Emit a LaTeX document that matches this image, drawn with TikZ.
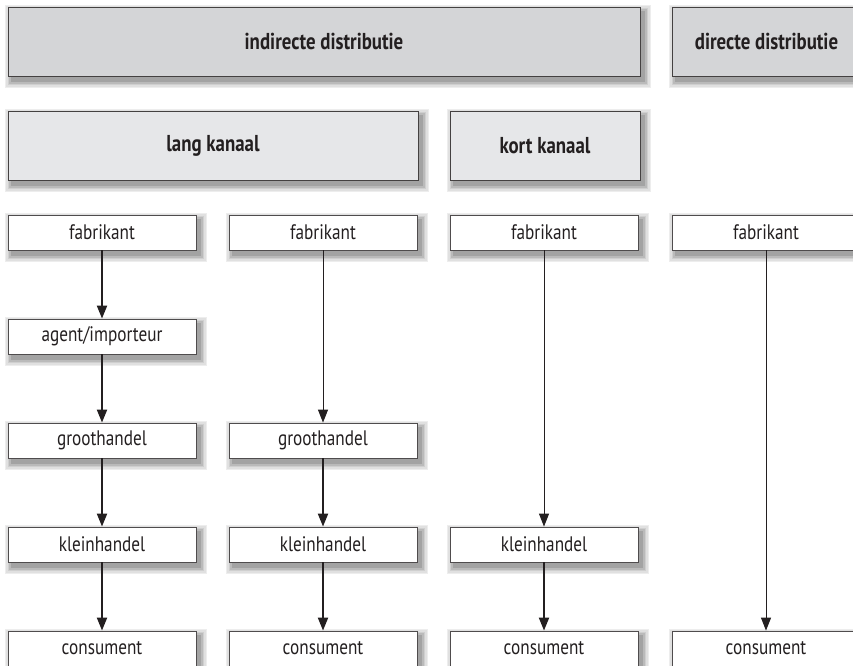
\documentclass[tikz,border=0pt]{standalone}
\usepackage{fontspec}
\setmainfont{PT Sans}[FakeStretch=0.82]
\usetikzlibrary{arrows.meta,backgrounds}
\definecolor{kopgrijs}{HTML}{D4D5D7}
\definecolor{kanaalgrijs}{HTML}{E6E7E9}
\definecolor{lijn}{HTML}{231F20}

\begin{document}
\begin{tikzpicture}[x=1pt, y=1pt,
	kop/.style={draw=lijn!85, line width=0.9pt, minimum height=69pt, inner sep=0pt, text=lijn, font=\fontsize{23}{26}\selectfont\bfseries},
	box/.style={draw=lijn!80, fill=white, line width=0.8pt, minimum width=188pt, minimum height=35pt, inner sep=0pt, text=lijn, font=\fontsize{21}{23}\selectfont},
	dik/.style={draw=lijn, line width=2pt, -{Triangle[width=10pt,length=13pt]}},
	dun/.style={draw=lijn, line width=1pt, -{Triangle[width=10pt,length=13pt]}}]
	\useasboundingbox (0,0) rectangle (853,-665);

	% kopjes
	\node[kop, fill=kopgrijs, minimum width=632pt] (k1) at (324,-41.5) {indirecte distributie};
	\node[kop, fill=kopgrijs, minimum width=189pt] (k2) at (766.5,-41.5) {directe distributie};
	\node[kop, fill=kanaalgrijs, minimum width=410pt] (k3) at (213,-145.5) {lang kanaal};
	\node[kop, fill=kanaalgrijs, minimum width=190pt] (k4) at (545,-145.5) {kort kanaal};

	% kolom 1
	\node[box] (f1) at (102,-232.5) {fabrikant};
	\node[box] (a1) at (102,-336.5) {agent/importeur};
	\node[box] (g1) at (102,-440.5) {groothandel};
	\node[box] (k1b) at (102,-544.5) {kleinhandel};
	\node[box] (c1) at (102,-648.5) {consument};

	% kolom 2
	\node[box] (f2) at (323,-232.5) {fabrikant};
	\node[box] (g2) at (323,-440.5) {groothandel};
	\node[box] (k2b) at (323,-544.5) {kleinhandel};
	\node[box] (c2) at (323,-648.5) {consument};

	% kolom 3
	\node[box] (f3) at (544,-232.5) {fabrikant};
	\node[box] (k3b) at (544,-544.5) {kleinhandel};
	\node[box] (c3) at (544,-648.5) {consument};

	% kolom 4
	\node[box] (f4) at (766,-232.5) {fabrikant};
	\node[box] (c4) at (766,-648.5) {consument};

	% schaduwen
	\begin{scope}[on background layer]
		\foreach \n in {k1,k2,k3,k4,f1,a1,g1,k1b,c1,f2,g2,k2b,c2,f3,k3b,c3,f4,c4}
			\foreach \r/\t in {7/7,5.5/12,4/19,2.5/27,1/36}
				\fill[black!\t] ([shift={(4-\r,-5-\r)}]\n.south west) rectangle ([shift={(4+\r,-5+\r)}]\n.north east);
	\end{scope}

	\draw[dik] (f1) -- (a1);
	\draw[dik] (a1) -- (g1);
	\draw[dik] (g1) -- (k1b);
	\draw[dik] (k1b) -- (c1);
	\draw[dun] (f2) -- (g2);
	\draw[dik] (g2) -- (k2b);
	\draw[dik] (k2b) -- (c2);
	\draw[dun] (f3) -- (k3b);
	\draw[dik] (k3b) -- (c3);
	\draw[dun] (f4) -- (c4);
\end{tikzpicture}
\end{document}
